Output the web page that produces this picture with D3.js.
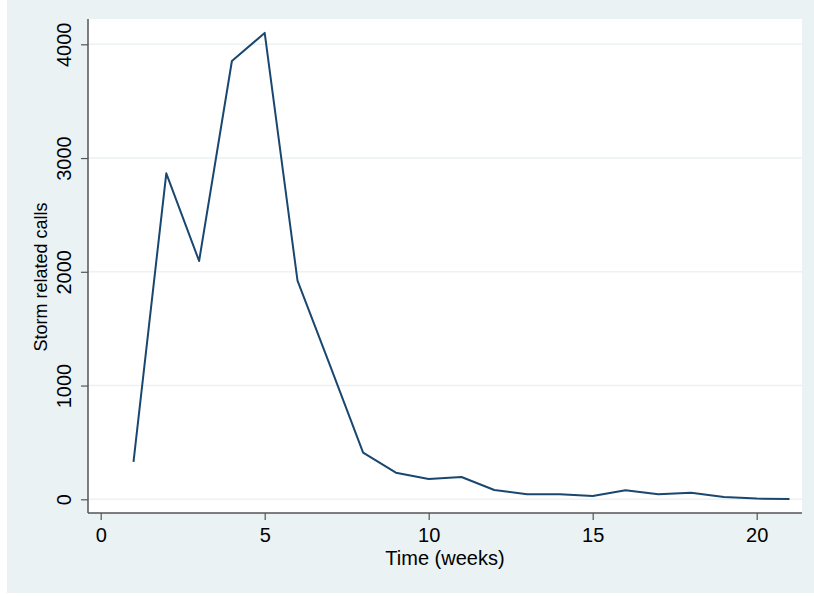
<!DOCTYPE html>
<html>
<head>
<meta charset="utf-8">
<script src="https://cdn.jsdelivr.net/npm/d3@7"></script>
<style>
  html, body { margin: 0; padding: 0; background: #fff; }
  svg { display: block; font-family: "Liberation Sans", Arial, sans-serif; }
</style>
</head>
<body>
<svg id="chart"></svg>
<script>
// Data
const weeks = [1, 2, 3, 4, 5, 6, 7, 8, 9, 10, 11, 12, 13, 14, 15, 16, 17, 18, 19, 20, 21]
const calls = [330, 2866, 2095, 3853, 4100, 1922, 1170, 410, 234, 178, 196, 82, 44, 44, 29, 79, 44, 58, 20, 6, 2]
const xTicks = [0, 5, 10, 15, 20]
const yTicks = [0, 1000, 2000, 3000, 4000]

const width = 814
const height = 596

const svg = d3.select('#chart')
  .attr('width', width)
  .attr('height', height)

// Outer graph region (light blue-gray)
svg.append('rect')
  .attr('x', 7).attr('y', 0)
  .attr('width', width - 7).attr('height', 593)
  .attr('fill', '#eaf2f3')

// Plot region
const plot = { left: 88, top: 19, right: 802, bottom: 513 }

svg.append('rect')
  .attr('x', plot.left).attr('y', plot.top)
  .attr('width', plot.right - plot.left).attr('height', plot.bottom - plot.top)
  .attr('fill', '#fff')

const x = d3.scaleLinear().domain([0, 20]).range([100.7, 756.7])
const y = d3.scaleLinear().domain([0, 4000]).range([499.3, 44.3])

// Gridlines
svg.append('g')
  .selectAll('line')
  .data(yTicks)
  .enter().append('line')
  .attr('x1', plot.left).attr('x2', plot.right)
  .attr('y1', d => y(d)).attr('y2', d => y(d))
  .attr('stroke', '#eaf2f3')
  .attr('stroke-width', 1.5)

// Y axis
const yAxis = svg.append('g')
  .attr('transform', `translate(${plot.left},0)`)
  .call(d3.axisLeft(y).tickValues(yTicks).tickFormat(d3.format('d')).tickSize(7).tickPadding(4).tickSizeOuter(0))

yAxis.select('.domain').remove()
yAxis.append('line')
  .attr('x1', 0).attr('x2', 0)
  .attr('y1', plot.top).attr('y2', plot.bottom)
  .attr('stroke', '#555').attr('stroke-width', 1.5)
yAxis.selectAll('.tick line').attr('stroke', '#555').attr('stroke-width', 1.2)
yAxis.selectAll('.tick text')
  .attr('font-size', '20px')
  .attr('fill', '#000')
  .attr('text-anchor', 'middle')
  .attr('transform', 'rotate(-90)')
  .attr('x', 0)
  .attr('dy', 0)
  .attr('y', -17)

// X axis
const xAxis = svg.append('g')
  .attr('transform', `translate(0,${plot.bottom})`)
  .call(d3.axisBottom(x).tickValues(xTicks).tickSize(7).tickPadding(8).tickSizeOuter(0))

xAxis.select('.domain').remove()
xAxis.append('line')
  .attr('x1', plot.left).attr('x2', plot.right)
  .attr('y1', 0).attr('y2', 0)
  .attr('stroke', '#555').attr('stroke-width', 1.5)
xAxis.selectAll('.tick line').attr('stroke', '#555').attr('stroke-width', 1.2)
xAxis.selectAll('.tick text')
  .attr('font-size', '20px')
  .attr('fill', '#000')

// Axis titles
svg.append('text')
  .attr('x', 445).attr('y', 565)
  .attr('text-anchor', 'middle')
  .attr('font-size', '20px')
  .attr('fill', '#000')
  .text('Time (weeks)')

svg.append('text')
  .attr('transform', 'translate(47,277) rotate(-90)')
  .attr('text-anchor', 'middle')
  .attr('font-size', '18px')
  .attr('fill', '#000')
  .text('Storm related calls')

// Series line
const line = d3.line()
  .x((d, i) => x(weeks[i]))
  .y(d => y(d))

svg.append('path')
  .datum(calls)
  .attr('d', line)
  .attr('fill', 'none')
  .attr('stroke', '#1a476f')
  .attr('stroke-width', 2)
  .attr('stroke-linejoin', 'round')
</script>
</body>
</html>
